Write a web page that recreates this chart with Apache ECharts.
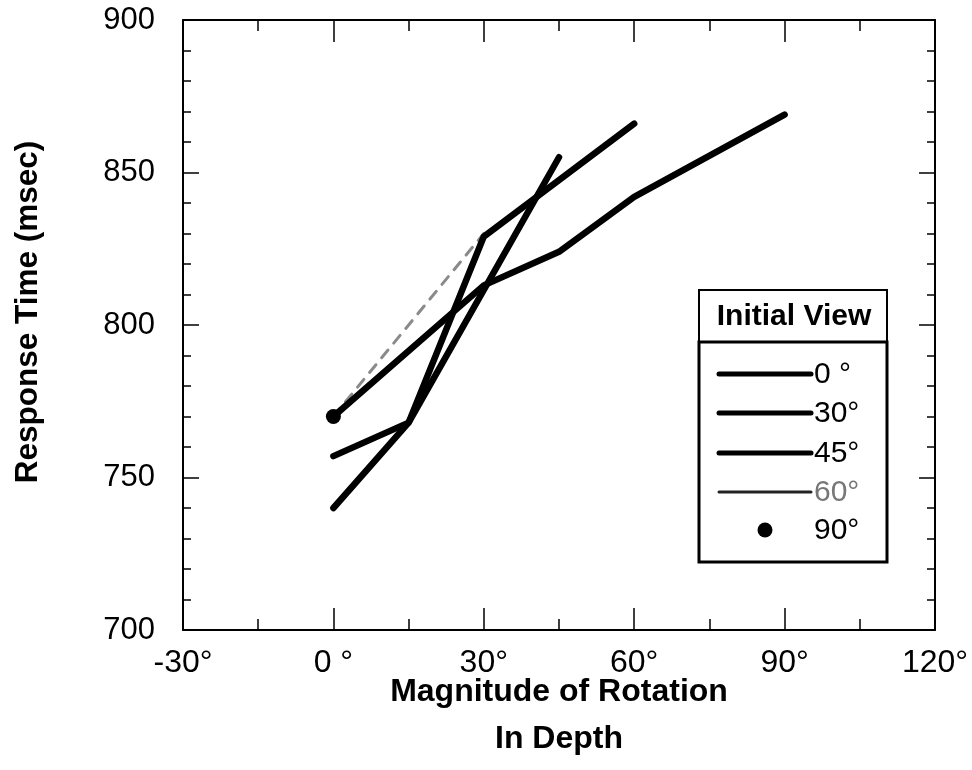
<!DOCTYPE html>
<html>
<head>
<meta charset="utf-8">
<script src="https://cdn.jsdelivr.net/npm/echarts@6/dist/echarts.min.js"></script>
<style>
  html, body { margin: 0; padding: 0; background: #fff; }
  #chart { width: 972px; height: 770px; }
</style>
</head>
<body>
<div id="chart"></div>
<script>
// ---- data ----
const xTickLabels = ['-30°', '0 °', '30°', '60°', '90°', '120°'];
const yTickLabels = ['700', '750', '800', '850', '900'];
const legendLabels = ['0 °', '30°', '45°', '60°', '90°'];

const view0 = [[0, 770], [30, 813], [45, 824], [60, 842], [90, 869]];
const view30 = [[0, 757], [15, 768], [30, 829], [60, 866]];
const view45 = [[0, 740], [15, 768], [45, 855]];
const view60 = [[0, 770], [30, 830]];
const view90 = [[0, 770]];

const FONT = '"Liberation Sans", Arial, Helvetica, sans-serif';

const chart = echarts.init(document.getElementById('chart'), null, { renderer: 'canvas' });

function xLabel(v) { return xTickLabels[Math.round((v + 30) / 30)] || ''; }
function yLabel(v) { return yTickLabels[Math.round((v - 700) / 50)] || ''; }

const xCommon = {
  type: 'value', min: -30, max: 120, interval: 30,
  axisLine: { show: true, onZero: false, lineStyle: { color: '#000', width: 2 } },
  axisTick: { show: true, inside: true, length: 22, lineStyle: { color: '#000', width: 1.5 } },
  minorTick: { show: true, splitNumber: 2, length: 11, lineStyle: { color: '#000', width: 1.5 } },
  splitLine: { show: false }, minorSplitLine: { show: false }
};
const yCommon = {
  type: 'value', min: 700, max: 900, interval: 50,
  axisLine: { show: true, onZero: false, lineStyle: { color: '#000', width: 2 } },
  axisTick: { show: true, inside: true, length: 16, lineStyle: { color: '#000', width: 1.5 } },
  minorTick: { show: true, splitNumber: 5, length: 8, lineStyle: { color: '#000', width: 1.5 } },
  splitLine: { show: false }, minorSplitLine: { show: false }
};

const lineBase = {
  type: 'line', showSymbol: false, symbol: 'none', silent: true,
  lineStyle: { color: '#000', width: 6.5, cap: 'round', join: 'round' },
  z: 3
};

const option = {
  backgroundColor: '#fff',
  animation: false,
  grid: { left: 183, right: 37, top: 20, bottom: 140, containLabel: false, outerBoundsMode: 'none' },
  xAxis: [
    Object.assign({}, xCommon, {
      position: 'bottom',
      axisLabel: { show: true, formatter: xLabel, color: '#000', fontSize: 32, fontFamily: FONT, margin: 17 },
      name: 'Magnitude of Rotation\nIn Depth',
      nameLocation: 'middle', nameGap: 39, nameMoveOverlap: false,
      nameTextStyle: { color: '#000', fontSize: 32, fontWeight: 'bold', fontFamily: FONT, lineHeight: 47 }
    }),
    Object.assign({}, xCommon, { position: 'top', axisLabel: { show: false } })
  ],
  yAxis: [
    Object.assign({}, yCommon, {
      position: 'left',
      axisLabel: { show: true, formatter: yLabel, color: '#000', fontSize: 31, fontFamily: FONT, margin: 28 },
      name: 'Response Time (msec)',
      nameLocation: 'middle', nameGap: 139, nameRotate: 90, nameMoveOverlap: false,
      nameTextStyle: { color: '#000', fontSize: 31.5, fontWeight: 'bold', fontFamily: FONT, padding: [0, 0, 0, 26] }
    }),
    Object.assign({}, yCommon, { position: 'right', axisLabel: { show: false } })
  ],
  series: [
    Object.assign({}, lineBase, { name: '0°', data: view0 }),
    Object.assign({}, lineBase, { name: '30°', data: view30 }),
    Object.assign({}, lineBase, { name: '45°', data: view45 }),
    Object.assign({}, lineBase, {
      name: '60°', data: view60, z: 2,
      lineStyle: { color: '#8a8a8a', width: 3, type: [10, 9], cap: 'round' }
    }),
    { name: '90°', type: 'scatter', data: view90, symbol: 'circle', symbolSize: 15,
      itemStyle: { color: '#000', opacity: 1 }, silent: true, z: 5 }
  ],
  graphic: [
    { type: 'rect', z: 100, shape: { x: 699, y: 290, width: 188, height: 52 },
      style: { fill: '#fff', stroke: '#000', lineWidth: 2 } },
    { type: 'rect', z: 100, shape: { x: 699, y: 342, width: 188, height: 220 },
      style: { fill: '#fff', stroke: '#000', lineWidth: 3 } },
    { type: 'text', z: 101, x: 794, y: 317,
      style: { text: 'Initial View', fill: '#000', font: 'bold 30px ' + FONT, align: 'center', verticalAlign: 'middle' } },
    { type: 'line', z: 101, shape: { x1: 719, y1: 374, x2: 811, y2: 374 }, style: { stroke: '#000', lineWidth: 5, lineCap: 'round' } },
    { type: 'line', z: 101, shape: { x1: 719, y1: 413, x2: 811, y2: 413 }, style: { stroke: '#000', lineWidth: 5, lineCap: 'round' } },
    { type: 'line', z: 101, shape: { x1: 719, y1: 453, x2: 811, y2: 453 }, style: { stroke: '#000', lineWidth: 5, lineCap: 'round' } },
    { type: 'line', z: 101, shape: { x1: 719, y1: 492, x2: 811, y2: 492 }, style: { stroke: '#222', lineWidth: 3, lineCap: 'round' } },
    { type: 'circle', z: 101, shape: { cx: 765, cy: 530, r: 7.5 }, style: { fill: '#000' } },
    { type: 'text', z: 101, x: 814, y: 375, style: { text: legendLabels[0], fill: '#000', font: '30px ' + FONT, verticalAlign: 'middle' } },
    { type: 'text', z: 101, x: 814, y: 414, style: { text: legendLabels[1], fill: '#000', font: '30px ' + FONT, verticalAlign: 'middle' } },
    { type: 'text', z: 101, x: 814, y: 454, style: { text: legendLabels[2], fill: '#000', font: '30px ' + FONT, verticalAlign: 'middle' } },
    { type: 'text', z: 101, x: 814, y: 493, style: { text: legendLabels[3], fill: '#777', font: '30px ' + FONT, verticalAlign: 'middle' } },
    { type: 'text', z: 101, x: 814, y: 531, style: { text: legendLabels[4], fill: '#000', font: '30px ' + FONT, verticalAlign: 'middle' } }
  ]
};

chart.setOption(option);
</script>
</body>
</html>
